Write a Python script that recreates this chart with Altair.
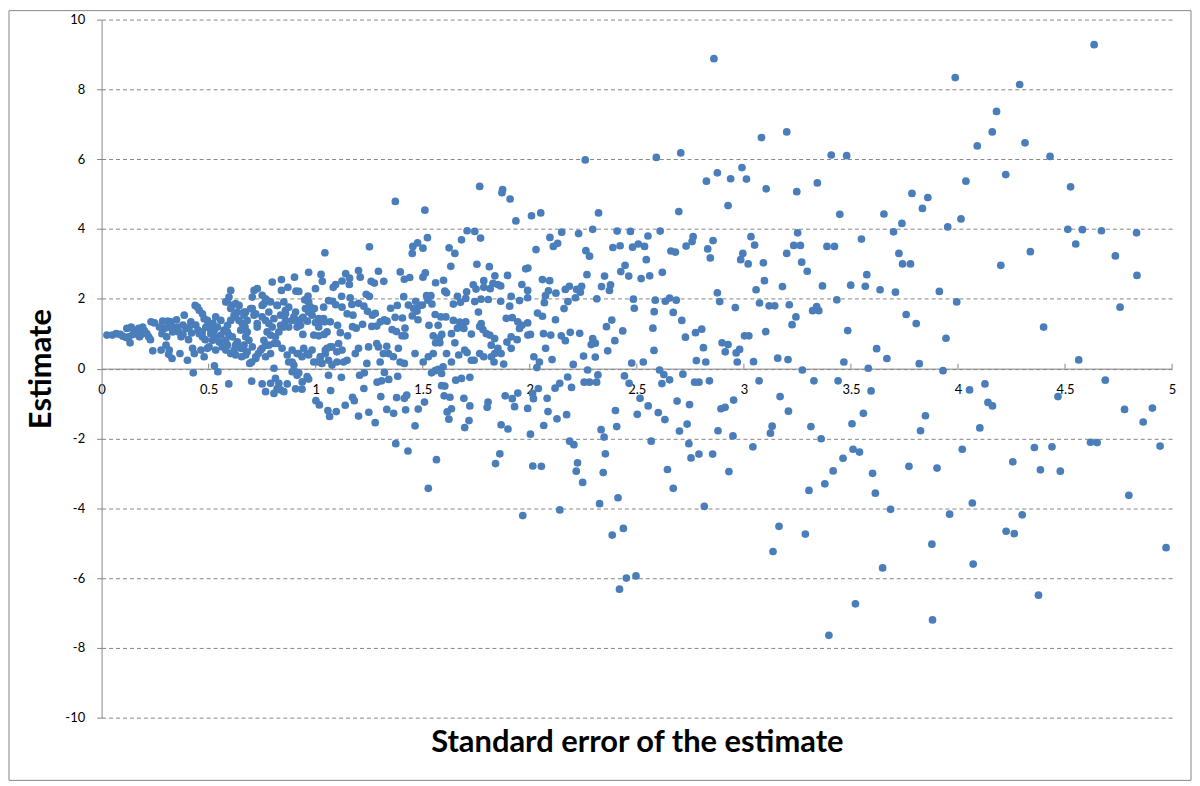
import pandas as pd
import altair as alt

# Points: [standard error, estimate], grouped by band of standard error
band_0_1 = [
    [0.025, 0.96], [0.05, 0.96], [0.068, 1.00], [0.087, 0.98], [0.099, 0.93], [0.115, 0.89],
    [0.118, 1.15], [0.138, 1.19], [0.133, 0.74], [0.153, 1.10], [0.173, 1.15], [0.161, 1.00],
    [0.177, 0.91], [0.192, 1.19], [0.2, 1.08], [0.211, 1.00], [0.22, 0.91], [0.228, 0.83],
    [0.184, 0.98], [0.146, 0.98], [0.127, 0.91],
    [0.231, 1.34], [0.247, 1.31], [0.239, 0.51], [0.27, 1.19], [0.285, 1.36], [0.293, 1.15],
    [0.282, 1.00], [0.278, 0.53], [0.316, 0.53], [0.324, 1.34], [0.313, 1.19], [0.304, 0.91],
    [0.332, 1.05], [0.35, 1.40], [0.309, 1.36], [0.301, 0.67],
    [0.355, 1.19], [0.371, 0.91], [0.386, 1.53], [0.394, 1.15], [0.409, 1.19], [0.417, 1.34],
    [0.406, 0.83], [0.366, 0.43], [0.329, 0.29], [0.313, 0.41],
    [0.425, 0.58], [0.401, 0.24], [0.433, 0.43], [0.502, 0.62], [0.533, 0.53],
    [0.33, 1.20], [0.36, 1.05], [0.38, 1.25], [0.44, 1.25], [0.45, 1.10], [0.50, 1.25],
    [0.52, 1.30], [0.38, 0.98], [0.42, 1.02], [0.47, 1.05],
    [0.437, 1.81], [0.448, 1.76], [0.456, 1.67], [0.471, 1.57], [0.479, 1.43], [0.494, 1.38],
    [0.487, 1.19], [0.506, 1.15], [0.456, 1.00], [0.471, 0.91], [0.484, 0.83], [0.464, 0.53],
    [0.494, 0.58], [0.479, 0.34], [0.428, -0.12], [0.527, 0.08], [0.543, -0.09],
    [0.51, 1.00], [0.526, 1.10], [0.533, 0.91], [0.518, 0.81], [0.549, 0.76], [0.557, 0.96],
    [0.541, 1.19], [0.557, 1.38], [0.533, 1.48],
    [0.572, 1.10], [0.588, 1.24], [0.595, 0.96], [0.58, 0.81], [0.564, 0.62], [0.588, 0.67],
    [0.603, 1.38], [0.58, 0.53], [0.603, 0.43], [0.619, 0.53], [0.626, 0.39],
    [0.58, 1.91], [0.595, 2.05], [0.603, 2.24], [0.608, 1.81], [0.626, 1.86], [0.634, 1.62],
    [0.626, 1.48], [0.594, -0.44],
    [0.642, 1.38], [0.657, 1.29], [0.65, 1.10], [0.67, 1.19], [0.68, 1.05], [0.673, 0.91],
    [0.688, 0.81], [0.665, 0.67], [0.65, 0.58], [0.626, 0.67],
    [0.654, 0.34], [0.673, 0.39], [0.692, 0.15], [0.701, 0.19], [0.72, 0.29], [0.732, 0.43],
    [0.75, 0.58], [0.766, 0.34],
    [0.665, 1.53], [0.673, 1.62], [0.704, 1.72], [0.72, 1.57], [0.712, 2.24], [0.727, 2.29],
    [0.75, 2.10], [0.758, 1.86], [0.773, 1.95], [0.789, 1.91], [0.75, 1.48], [0.727, 1.19],
    [0.704, 2.05],
    [0.766, 1.38], [0.781, 1.29], [0.797, 1.19], [0.773, 1.05], [0.789, 0.96], [0.812, 0.91],
    [0.805, 0.72], [0.781, 0.67], [0.758, 0.81], [0.828, 1.05], [0.836, 1.24], [0.851, 1.19],
    [0.797, 2.48], [0.84, 2.55], [0.84, 2.24], [0.87, 2.33], [0.901, 2.62], [0.908, 2.22],
    [0.82, 1.81], [0.851, 1.91], [0.859, 1.67], [0.836, 1.53], [0.859, 1.38], [0.874, 1.19],
    [0.587, 1.91], [0.603, 1.72], [0.619, 1.53], [0.642, 1.81], [0.665, 1.62], [0.68, 1.38],
    [0.696, 1.72], [0.712, 1.53], [0.727, 1.29], [0.75, 1.81], [0.766, 2.00], [0.781, 1.62],
    [0.805, 1.43], [0.82, 1.81], [0.843, 1.24], [0.859, 1.57], [0.874, 1.76], [0.89, 1.38],
    [0.906, 1.62], [0.913, 1.19], [0.936, 1.43], [0.952, 1.72], [0.967, 1.91], [0.983, 1.53],
    [0.587, 1.05], [0.611, 0.91], [0.634, 0.77], [0.657, 0.58], [0.68, 0.48], [0.704, 0.62],
    [0.72, 0.34], [0.743, 0.53], [0.766, 0.67], [0.789, 0.43], [0.82, 0.72], [0.843, 0.58],
    [0.867, 0.39], [0.89, 0.19], [0.921, 0.43], [0.944, 0.58], [0.967, 0.39], [0.991, 0.19],
    [0.805, 0.01], [0.812, -0.28], [0.828, -0.42], [0.789, -0.42], [0.82, -0.57], [0.766, -0.66],
    [0.75, -0.44], [0.701, -0.36], [0.836, -0.61], [0.851, -0.66], [0.867, -0.44], [0.89, -0.09],
    [0.913, -0.19], [0.921, -0.12], [0.96, -0.23], [0.906, -0.09], [0.937, -0.38],
    [0.906, -0.58], [0.805, -0.71],
    [0.898, 1.48], [0.913, 1.38],
    [0.89, 0.53], [0.913, 0.43], [0.874, 0.19], [0.898, 0.10], [0.96, 0.43], [0.983, 0.53],
    [0.936, 0.34], [0.967, 2.76], [0.967, -0.30], [0.936, -0.59],
    [0.921, 2.21], [0.999, 2.29], [0.964, 2.08], [0.949, 1.97], [0.975, 1.77], [0.994, 1.72],
    [0.967, 1.62], [0.941, 1.47], [0.961, 1.36], [0.929, 1.24], [0.999, 1.32], [0.94, 0.98],
    [0.991, 0.96],
]

band_1_2 = [
    [1.766, 5.22], [1.873, 5.13], [1.87, 5.04], [1.908, 4.86], [1.372, 4.79], [1.51, 4.54],
    [1.935, 4.23], [1.707, 3.95], [1.743, 3.93], [1.77, 3.74], [1.681, 3.69], [1.522, 3.75],
    [1.476, 3.60], [1.454, 3.50], [1.451, 3.30], [1.501, 3.45], [1.251, 3.49], [1.043, 3.32],
    [1.623, 3.46], [1.65, 3.30], [1.631, 2.93], [1.753, 2.99], [1.811, 2.92], [1.981, 2.86],
    [1.896, 2.67], [1.837, 2.66],
    [1.736, 2.40], [1.785, 2.52], [1.749, 2.28], [1.785, 2.33], [1.815, 2.29], [1.851, 2.41],
    [1.864, 2.37], [1.828, 2.44],
    [1.705, 2.20], [1.701, 2.01], [1.743, 1.92], [1.772, 1.99], [1.806, 1.98], [1.662, 2.07],
    [1.676, 1.90], [1.643, 1.85], [1.611, 2.17], [1.56, 2.46], [1.597, 2.53], [1.603, 2.22],
    [1.512, 2.74], [1.501, 2.62], [1.395, 2.77], [1.414, 2.56], [1.439, 2.61], [1.293, 2.79],
    [1.318, 2.50], [1.274, 2.45], [1.259, 2.50], [1.2, 2.81], [1.208, 2.62], [1.158, 2.59],
    [1.14, 2.72], [1.123, 2.51], [1.093, 2.41], [1.157, 2.41], [1.025, 2.70], [1.031, 2.50],
    [1.082, 2.33], [1.121, 2.07], [1.161, 2.03], [1.169, 1.84], [1.123, 1.76], [1.079, 1.93],
    [1.094, 1.83], [1.014, 1.43], [1.037, 1.76], [1.06, 1.95],
    [1.014, 1.19], [1.037, 1.43], [1.053, 1.05], [1.068, 1.34], [1.022, 0.34], [1.045, 0.53],
    [1.068, 0.62],
    [1.023, 1.36], [1.042, 1.34], [1.039, 0.98], [1.014, 0.94], [1.115, 1.03], [1.149, 0.94],
    [1.102, 1.24], [1.174, 1.53], [1.147, 1.57], [1.172, 1.20], [1.189, 1.16], [1.219, 1.27],
    [1.2, 1.87], [1.225, 1.79], [1.242, 1.64], [1.236, 2.13], [1.251, 2.07],
    [1.265, 1.53], [1.278, 1.58], [1.262, 1.21], [1.285, 1.22], [1.302, 1.34], [1.32, 1.40],
    [1.333, 1.36], [1.35, 1.73], [1.381, 1.81], [1.411, 2.06], [1.371, 1.47], [1.405, 1.45],
    [1.417, 1.16], [1.357, 1.12], [1.377, 1.06], [1.403, 0.94], [1.417, 0.94],
    [1.433, 1.82], [1.457, 1.72], [1.473, 1.65], [1.467, 1.93], [1.484, 1.81], [1.498, 1.82],
    [1.451, 1.51], [1.478, 1.40], [1.518, 2.09], [1.538, 2.09], [1.524, 1.96], [1.543, 1.85],
    [1.558, 1.55], [1.585, 1.48], [1.608, 1.48], [1.572, 1.24],
    [1.529, 1.24], [1.549, 0.94], [1.56, 0.74], [1.58, 0.74], [1.589, 0.98], [1.578, 0.88],
    [1.643, 1.38], [1.662, 1.16], [1.684, 1.24], [1.692, 1.15], [1.701, 1.34], [1.673, 1.33],
    [1.634, 1.00], [1.65, 0.74], [1.668, 0.39], [1.696, 0.53], [1.707, 0.46], [1.727, 0.99],
    [1.76, 1.62], [1.766, 1.21], [1.773, 1.29], [1.781, 1.12], [1.797, 1.00], [1.813, 0.96],
    [1.836, 0.86], [1.851, 0.58],
    [1.727, 0.24], [1.74, 0.24], [1.766, 0.43], [1.785, 0.34], [1.82, 0.67], [1.836, 0.43],
    [1.82, 0.34], [1.833, 0.19], [1.866, 0.43], [1.878, 0.13],
    [1.893, 0.76], [1.913, 0.91], [1.913, 0.58], [1.941, 0.83], [1.952, 1.15], [1.963, 1.24],
    [1.991, 0.96], [1.944, 1.34], [1.918, 1.46], [1.89, 1.44],
    [1.864, 1.93], [1.906, 1.79], [1.952, 1.95], [1.913, 2.07], [1.99, 2.24], [1.963, 2.41],
    [2.064, 1.00],
    [1.006, 0.19], [1.022, 0.34], [1.029, 0.15], [1.045, 0.43], [1.06, 0.24], [1.076, 0.10],
    [1.099, 0.19], [1.053, 0.58], [1.076, 0.62], [1.107, 0.72], [1.099, 0.48], [1.123, 0.53],
    [1.13, 0.19], [1.146, 0.24], [1.185, 0.43], [1.2, 0.58], [1.239, 0.15], [1.247, 0.62],
    [1.285, 0.72], [1.293, 0.62], [1.301, 0.19], [1.316, 0.43], [1.332, 0.64], [1.34, 0.43],
    [1.363, 0.34], [1.386, 0.58], [1.394, 0.19], [1.414, 0.15], [1.464, 0.43], [1.502, 0.19],
    [1.526, 0.34], [1.549, 0.43], [1.611, 0.43], [1.634, 0.19],
    [1.001, -0.92], [1.017, -1.04], [1.06, -0.19], [1.07, -0.63], [1.057, -1.20], [1.065, -1.37],
    [1.096, -1.23], [1.12, -0.25], [1.138, -1.05], [1.172, -0.82], [1.18, -0.92], [1.2, -1.36],
    [1.205, -0.19], [1.227, -0.12], [1.225, -0.57], [1.248, -1.25], [1.278, -1.55], [1.287, -0.39],
    [1.308, -0.35], [1.304, -0.80], [1.321, -0.11], [1.332, -1.17], [1.364, -1.28], [1.341, -0.31],
    [1.383, -0.22], [1.378, -0.83], [1.42, -1.18], [1.425, -0.76], [1.414, -0.85], [1.479, -1.16],
    [1.508, -0.96], [1.464, -1.64], [1.374, -2.15], [1.431, -2.36], [1.564, -2.61],
    [1.541, -0.12], [1.558, -0.06], [1.572, -0.02], [1.595, 0.05], [1.588, -0.14],
    [1.588, -0.49], [1.603, -0.50], [1.6, -0.78], [1.627, -0.82], [1.614, -1.24], [1.634, -1.15],
    [1.622, -1.45], [1.654, -0.33], [1.681, -0.28], [1.72, -0.25],
    [1.692, -0.85], [1.72, -1.07], [1.716, -1.49], [1.696, -1.69], [1.801, -1.11], [1.805, -0.96],
    [1.866, -1.61], [1.898, -1.73], [1.885, -0.78], [1.918, -0.86], [1.944, -0.70], [1.929, -1.09],
    [1.86, -2.44], [1.84, -2.72], [1.967, -4.21], [1.526, -3.43],
]

band_2_3 = [
    [2.259, 5.98], [2.591, 6.05], [2.705, 6.18], [2.825, 5.37], [2.876, 5.61], [2.991, 5.76],
    [2.938, 5.44], [3.012, 5.43], [3.104, 5.15], [3.082, 6.62], [2.926, 4.67], [2.696, 4.50],
    [2.321, 4.46], [2.008, 4.38], [2.051, 4.46], [2.86, 8.88],
    [2.149, 3.91], [2.228, 3.87], [2.294, 3.99], [2.408, 3.94], [2.47, 3.93], [2.609, 3.94],
    [2.094, 3.76], [2.11, 3.50], [2.13, 3.59], [2.029, 3.41], [2.262, 3.38], [2.279, 3.22],
    [2.388, 3.47], [2.422, 3.52], [2.48, 3.48], [2.507, 3.57], [2.536, 3.50], [2.552, 3.80],
    [2.544, 3.12], [2.659, 3.37], [2.68, 3.34], [2.73, 3.51], [2.758, 3.64], [2.763, 3.78],
    [2.831, 3.43], [2.856, 3.67], [2.843, 3.17], [2.876, 2.17], [2.887, 1.92], [2.985, 3.12],
    [2.995, 3.30], [3.02, 3.00], [3.033, 3.78], [3.05, 3.54], [3.091, 3.03], [3.096, 2.52],
    [3.057, 2.26], [3.18, 2.35], [3.073, 1.88], [3.118, 1.80], [3.144, 1.80], [2.96, 1.75],
    [3.102, 1.06], [3.003, 0.94], [3.023, 0.94], [2.898, 0.74], [2.926, 0.69], [2.913, 0.48],
    [2.964, 0.45], [2.98, 0.55], [2.969, 0.19], [3.045, 0.20], [3.158, 0.30], [2.811, 0.60],
    [2.778, 0.23], [2.822, 0.19], [2.774, 1.03], [2.803, 1.13], [2.727, 0.90], [2.71, 1.38],
    [2.67, 1.61], [2.633, 1.93], [2.653, 2.02], [2.684, 1.96], [2.586, 1.96], [2.581, 1.63],
    [2.575, 1.16], [2.58, 0.52], [2.619, 2.76], [2.56, 2.66], [2.52, 2.58], [2.484, 1.99],
    [2.488, 1.73], [2.462, 2.65], [2.445, 2.96], [2.425, 2.78], [2.349, 2.65], [2.335, 2.35],
    [2.377, 2.40], [2.372, 2.24], [2.313, 2.00], [2.267, 2.69], [2.242, 2.36], [2.236, 2.19],
    [2.219, 2.27], [2.185, 2.36], [2.166, 2.27], [2.122, 2.16], [2.178, 1.92], [2.16, 1.72],
    [2.213, 2.03], [2.087, 2.23], [2.073, 2.09], [2.068, 1.89], [2.059, 2.55], [2.093, 2.52],
    [1.991, 2.88], [1.99, 2.03], [2.036, 1.59], [2.059, 1.50], [2.12, 1.40], [1.99, 1.31],
    [2.003, 0.98], [2.098, 0.96], [2.147, 0.94], [2.166, 0.80], [2.189, 1.04], [2.233, 1.01],
    [2.294, 0.86], [2.287, 0.69], [2.306, 0.73], [2.358, 1.20], [2.383, 1.39], [2.434, 1.08],
    [2.397, 0.80], [2.364, 0.51], [2.306, 0.33], [2.251, 0.36], [2.203, 0.12], [2.074, 0.58],
    [2.104, 0.26], [2.045, 0.19], [2.033, 0.03], [2.019, 0.34], [2.476, 0.16], [2.53, 0.19],
    [2.27, -0.04], [2.606, -0.04], [2.626, -0.17], [2.715, -0.16], [2.839, -0.35], [2.77, -0.39],
    [2.79, -0.39], [3.071, -0.35], [2.177, -0.24], [2.118, -0.56], [2.14, -0.42], [2.195, -0.54],
    [2.254, -0.39], [2.279, -0.39], [2.312, -0.39], [2.318, -0.18], [2.442, -0.21], [2.464, -0.42],
    [2.04, -0.57], [2.617, -0.43], [2.653, -0.32], [3.169, -0.80], [2.952, -0.90], [2.515, -0.85],
    [2.688, -0.93], [2.081, -0.85], [2.017, -0.86],
    [1.99, -1.14], [2.013, -0.71], [2.085, -1.23], [2.127, -1.44], [2.172, -1.32], [2.065, -1.63],
    [2.003, -1.88], [2.186, -2.08], [2.206, -2.18], [2.014, -2.79], [2.054, -2.80], [2.223, -2.70],
    [2.217, -2.94], [2.247, -3.26], [2.14, -4.05], [2.333, -1.75], [2.347, -1.96], [2.353, -2.44],
    [2.343, -2.98], [2.326, -3.87], [2.4, -1.20], [2.406, -1.66], [2.412, -3.70], [2.385, -4.77],
    [2.437, -4.58], [2.451, -6.00], [2.496, -5.94], [2.419, -6.32], [2.502, -1.31], [2.553, -1.07],
    [2.60, -1.26], [2.631, -1.46], [2.567, -2.08], [2.643, -2.89], [2.67, -3.43], [2.746, -1.03],
    [2.699, -1.79], [2.735, -1.59], [2.743, -2.15], [2.753, -2.56], [2.79, -2.45], [2.854, -2.45],
    [2.815, -3.95], [2.879, -1.78], [2.893, -1.15], [2.912, -1.11], [2.949, -1.93], [2.93, -2.95],
    [3.042, -2.24], [3.132, -1.65], [3.124, -1.85], [3.164, -4.52], [3.136, -5.24],
]

band_3_5 = [
    [4.636, 9.28], [3.987, 8.34], [4.288, 8.14], [4.18, 7.37], [4.16, 6.78], [4.313, 6.47],
    [4.09, 6.38], [4.43, 6.08], [3.408, 6.12], [3.48, 6.10], [4.223, 5.56], [4.037, 5.37],
    [4.526, 5.21], [3.343, 5.32], [3.247, 5.07], [3.785, 5.02], [3.859, 4.90], [3.834, 4.59],
    [3.654, 4.43], [3.448, 4.42], [4.014, 4.29], [3.738, 4.16], [3.952, 4.06], [3.699, 3.92],
    [3.251, 3.89], [4.513, 3.99], [4.581, 3.98], [4.67, 3.95], [4.834, 3.89], [3.2, 6.78],
    [3.2, 3.30], [3.233, 3.53], [3.264, 3.53], [3.27, 3.05], [3.296, 2.79], [3.388, 3.50],
    [3.423, 3.50], [3.549, 3.71], [3.724, 3.30], [3.741, 3.00], [3.778, 3.00], [3.574, 2.69],
    [3.567, 2.36], [3.499, 2.39], [3.367, 2.37], [3.636, 2.26], [3.708, 2.19], [3.913, 2.21],
    [4.20, 2.96], [4.338, 3.35], [4.55, 3.57], [4.735, 3.23], [4.836, 2.67], [3.434, 1.97],
    [3.994, 1.91], [3.212, 1.83], [3.321, 1.66], [3.34, 1.78], [3.35, 1.66], [3.243, 1.48],
    [3.225, 1.26], [3.485, 1.09], [3.758, 1.55], [3.805, 1.29], [3.944, 0.87], [4.40, 1.19],
    [4.757, 1.76], [3.62, 0.57], [3.668, 0.29], [3.206, 0.26], [3.467, 0.19], [3.819, 0.14],
    [4.564, 0.25], [3.581, 0.01], [3.273, -0.04], [3.93, -0.06], [3.327, -0.35], [3.44, -0.35],
    [4.688, -0.33],
    [3.594, -0.64], [4.126, -0.44], [4.054, -0.61], [4.14, -0.97], [4.161, -1.07], [4.467, -0.80],
    [3.208, -1.22], [3.558, -1.28], [3.505, -1.58], [3.313, -1.66], [3.361, -2.01], [3.848, -1.35],
    [3.825, -1.78], [4.102, -1.70], [4.778, -1.17], [4.908, -1.13], [4.865, -1.53], [4.944, -2.22],
    [3.51, -2.31], [3.54, -2.39], [3.463, -2.57], [3.417, -2.93], [3.378, -3.30], [3.304, -3.49],
    [3.601, -3.00], [3.614, -3.57], [3.685, -4.03], [3.287, -4.74], [3.648, -5.71], [3.521, -6.74],
    [3.397, -7.64], [3.881, -7.20], [3.878, -5.03], [3.771, -2.80], [3.902, -2.85], [3.961, -4.17],
    [4.02, -2.31], [4.067, -3.85], [4.071, -5.60], [4.256, -2.67], [4.225, -4.66], [4.263, -4.73],
    [4.30, -4.19], [4.357, -2.26], [4.385, -2.90], [4.439, -2.24], [4.478, -2.94], [4.376, -6.49],
    [4.619, -2.11], [4.65, -2.12], [4.798, -3.63], [4.972, -5.13],
]

x_ticks = [0, 0.5, 1, 1.5, 2, 2.5, 3, 3.5, 4, 4.5, 5]
y_ticks = [-10, -8, -6, -4, -2, 0, 2, 4, 6, 8, 10]

points = pd.DataFrame(band_0_1 + band_1_2 + band_2_3 + band_3_5, columns=["se", "estimate"])
tick_marks = pd.DataFrame({"tick": x_ticks[1:]})

grey = "#868686"
font = "Lato"
x_title = "Standard error of the estimate"

dots = alt.Chart(points).mark_circle(size=60, opacity=1, color="#4A7EBB").encode(
    x=alt.X("se:Q")
    .scale(domain=[0, 5], nice=False)
    .axis(
        values=x_ticks, labelExpr="toString(datum.value)", offset=-350.5, ticks=False,
        tickSize=0, grid=False, domainColor=grey, labelFont=font, labelFontSize=13,
        labelColor="#000000", labelPadding=15, labelFlush=False,
        titleFont=font, titleFontSize=31, titleFontWeight="bold", titleColor="#000000",
        titleY=375.5, titleBaseline="middle",
    )
    .title(x_title),
    y=alt.Y("estimate:Q")
    .scale(domain=[-10, 10], nice=False)
    .axis(
        values=y_ticks, labelExpr="toString(datum.value)", grid=True, gridColor=grey,
        gridDash=[4, 3], gridWidth=1, domainColor=grey, tickColor=grey, tickSize=5,
        labelFont=font, labelFontSize=13, labelColor="#000000", labelPadding=12,
        labelFlush=False,
        titleFont=font, titleFontSize=31, titleFontWeight="bold", titleColor="#000000",
        titleX=-60, titleY=350.5, titleBaseline="middle",
    )
    .title("Estimate"),
)

# small upward tick marks on the x axis
ticks = alt.Chart(tick_marks).mark_rule(color=grey, strokeWidth=1).encode(
    x=alt.X("tick:Q").title(x_title),
    y=alt.datum(0),
    y2=alt.datum(0.14),
)

# chart area border
frame = alt.Chart(pd.DataFrame({"f": [0]})).mark_rect(
    fillOpacity=0, stroke=grey, strokeWidth=1
).encode(
    x=alt.value(-93), x2=alt.value(1094), y=alt.value(-9), y2=alt.value(764)
)

chart = alt.layer(dots, ticks, frame).properties(
    width=1075,
    height=701,
    autosize=alt.AutoSizeParams(type="none"),
    padding={"left": 94, "top": 10, "right": 20, "bottom": 64},
    background="white",
).configure_view(strokeWidth=0)

chart.save("out.html", embed_options={"renderer": "svg", "actions": False})
